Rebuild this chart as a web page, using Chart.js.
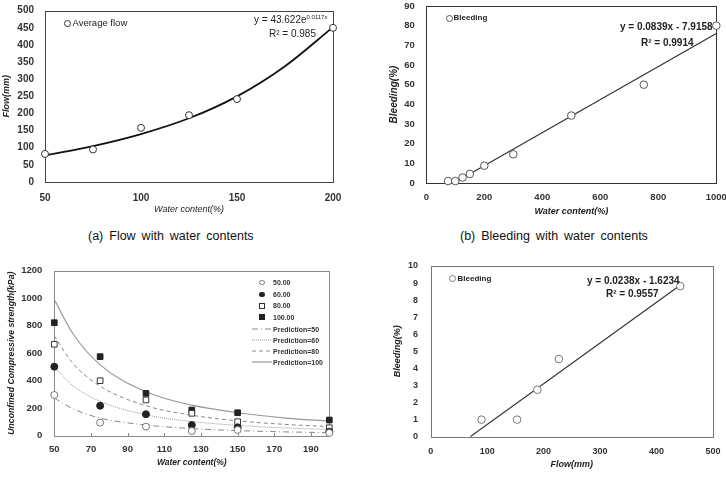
<!DOCTYPE html>
<html><head><meta charset="utf-8">
<script src="https://cdn.jsdelivr.net/npm/chart.js@4.4.1/dist/chart.umd.min.js"></script>
<style>
html,body{margin:0;padding:0;background:#fff;}
#wrap{position:relative;width:726px;height:490px;overflow:hidden;font-family:"Liberation Sans",Arial,sans-serif;color:#222;}
canvas{position:absolute;}
.t{position:absolute;white-space:nowrap;line-height:1;}
.b{font-weight:bold;}
.mk{position:absolute;box-sizing:border-box;}
sup{font-size:6px;vertical-align:4px;line-height:0;}
</style></head><body><div id="wrap">
<canvas id="c1" width="363" height="215" style="left:0;top:0"></canvas>
<canvas id="c2" width="363" height="215" style="left:363px;top:0"></canvas>
<canvas id="c3" width="363" height="245" style="left:0;top:245px"></canvas>
<canvas id="c4" width="363" height="245" style="left:363px;top:245px"></canvas>

<!-- chart 1 texts -->
<div class="mk" style="left:63.5px;top:19.5px;width:7px;height:7px;border:1px solid #333;border-radius:50%"></div>
<div class="t" style="left:72.5px;top:18px;font-size:9.5px;color:#222">Average flow</div>
<div class="t" style="left:254px;top:15px;font-size:10px;color:#222">y = 43.622e<sup>0.0117x</sup></div>
<div class="t" style="left:269px;top:28.5px;font-size:10px;color:#222">R² = 0.985</div>

<!-- chart 2 texts -->
<div class="mk" style="left:445.5px;top:14.5px;width:7px;height:7px;border:1px solid #555;border-radius:50%"></div>
<div class="t b" style="left:453.5px;top:14px;font-size:8px;color:#222">Bleeding</div>
<div class="t b" style="left:620px;top:22px;font-size:10px;color:#222">y = 0.0839x - 7.9158</div>
<div class="t b" style="left:641px;top:37.5px;font-size:10px;color:#222">R² = 0.9914</div>

<!-- captions -->
<div class="t" style="left:88px;top:230px;font-size:12.5px;word-spacing:2.5px;color:#111">(a) Flow with water contents</div>
<div class="t" style="left:460px;top:230px;font-size:12.5px;word-spacing:2.5px;color:#111">(b) Bleeding with water contents</div>

<!-- chart 3 legend -->
<div class="mk" style="left:259px;top:279.5px;width:5.5px;height:5.5px;border:1px solid #777;border-radius:50%"></div>
<div class="t b" style="left:273px;top:278.5px;font-size:7px;color:#333">50.00</div>
<div class="mk" style="left:259px;top:291.5px;width:5.5px;height:5.5px;background:#222;border-radius:50%"></div>
<div class="t b" style="left:273px;top:290.5px;font-size:7px;color:#333">60.00</div>
<div class="mk" style="left:259px;top:302.5px;width:6px;height:6px;border:1px solid #333"></div>
<div class="t b" style="left:273px;top:301.5px;font-size:7px;color:#333">80.00</div>
<div class="mk" style="left:259px;top:314px;width:6px;height:6px;background:#222"></div>
<div class="t b" style="left:273px;top:313.5px;font-size:7px;color:#333">100.00</div>
<svg style="position:absolute;left:251px;top:324px" width="22" height="34">
<line x1="1" y1="5" x2="21" y2="5" stroke="#888" stroke-width="1" stroke-dasharray="6,3,1,3"/>
<line x1="1" y1="16" x2="21" y2="16" stroke="#999" stroke-width="1" stroke-dasharray="1,1"/>
<line x1="1" y1="27" x2="21" y2="27" stroke="#888" stroke-width="1" stroke-dasharray="4,3"/>
</svg>
<svg style="position:absolute;left:251px;top:357px" width="22" height="10">
<line x1="1" y1="5" x2="21" y2="5" stroke="#999" stroke-width="1.2"/>
</svg>
<div class="t b" style="left:273px;top:325.5px;font-size:7px;color:#333">Prediction=50</div>
<div class="t b" style="left:273px;top:336.5px;font-size:7px;color:#333">Prediction=60</div>
<div class="t b" style="left:273px;top:347.5px;font-size:7px;color:#333">Prediction=80</div>
<div class="t b" style="left:273px;top:358.5px;font-size:7px;color:#333">Prediction=100</div>

<!-- chart 4 texts -->
<div class="mk" style="left:448.5px;top:274.5px;width:7px;height:7px;border:1px solid #777;border-radius:50%"></div>
<div class="t b" style="left:457.5px;top:275px;font-size:8px;color:#222">Bleeding</div>
<div class="t b" style="left:587px;top:276px;font-size:10px;color:#222">y = 0.0238x - 1.6234</div>
<div class="t b" style="left:606px;top:289px;font-size:10px;color:#222">R² = 0.9557</div>
</div>
<script>
// ---------- data ----------
// (a) Flow with water contents
const flowWater = [50, 75, 100, 125, 150, 200];
const flowValues = [82, 95, 158, 195, 242, 450];
const flowFitWater = [50, 75, 100, 125, 150, 175, 200];
const flowFitValues = [78, 105, 140, 186, 250, 338, 452];
const flowXTicks = [50, 100, 150, 200];
const flowYTicks = [0, 50, 100, 150, 200, 250, 300, 350, 400, 450, 500];

// (b) Bleeding with water contents
const bleedWater = [75, 100, 125, 150, 200, 300, 500, 750, 1000];
const bleedValues = [1, 1, 2.8, 4.6, 8.8, 14.6, 34.3, 50, 80];
const bleedFitWater = [95, 1000];
const bleedFitValues = [0, 76];
const bleedXTicks = [0, 200, 400, 600, 800, 1000];
const bleedYTicks = [0, 10, 20, 30, 40, 50, 60, 70, 80, 90];

// UCS with water contents
const ucsWater = [50, 75, 100, 125, 150, 200];
const ucs50 = [296, 95, 66, 34, 42, 20];
const ucs60 = [502, 218, 156, 78, 61, 29];
const ucs80 = [665, 400, 260, 163, 102, 58];
const ucs100 = [822, 575, 308, 187, 167, 114];
const predWater = [50, 60, 75, 100, 125, 150, 175, 200];
const pred50 = [274, 197, 128, 78, 52, 37, 28, 22];
const pred60 = [500, 365, 250, 152, 103, 75, 57, 46];
const pred80 = [725, 528, 360, 218, 149, 108, 83, 66];
const pred100 = [990, 745, 515, 320, 222, 167, 130, 105];
const ucsXTicks = [50, 70, 90, 110, 130, 150, 170, 190];
const ucsYTicks = [0, 200, 400, 600, 800, 1000, 1200];

// Bleeding vs flow
const bfFlow = [90, 153, 189, 227, 442];
const bfBleed = [1, 1, 2.75, 4.55, 8.82];
const bfFitFlow = [70, 443];
const bfFitBleed = [0, 8.9];
const bfXTicks = [0, 100, 200, 300, 400, 500];
const bfYTicks = [0, 1, 2, 3, 4, 5, 6, 7, 8, 9, 10];

// ---------- helpers ----------
const FF = '"Liberation Sans", Arial, sans-serif';
const pts = (xs, ys) => xs.map((x, i) => ({x: x, y: ys[i]}));

const framePlugin = {
  id: 'frame',
  beforeDatasetsDraw(chart, args, o) {
    const a = chart.chartArea, c = chart.ctx;
    c.save();
    c.strokeStyle = o.color || '#333';
    c.lineWidth = 1;
    c.strokeRect(Math.round(a.left) + 0.5, Math.round(a.top) + 0.5,
      Math.round(a.right) - Math.round(a.left), Math.round(a.bottom) - Math.round(a.top));
    if (o.innerX) {
      const xs = chart.scales.x;
      xs.ticks.forEach(t => {
        const px = Math.round(xs.getPixelForValue(t.value)) + 0.5;
        c.beginPath(); c.moveTo(px, Math.round(a.bottom)); c.lineTo(px, Math.round(a.bottom) - 3); c.stroke();
      });
    }
    c.restore();
  }
};

function axis(min, max, vals, o) {
  return {
    type: 'linear', min: min, max: max,
    afterBuildTicks: s => { s.ticks = vals.map(v => ({value: v})); },
    ticks: {autoSkip: false, maxRotation: 0, minRotation: 0, padding: o.tp,
      color: o.tc || '#333', font: {family: FF, size: o.ts, weight: o.tw || 'bold'},
      callback: v => String(v)},
    grid: {display: false, drawTicks: false},
    border: {display: false},
    title: {display: true, text: o.title, color: '#222',
      font: {family: FF, size: o.tsz, style: 'italic', weight: o.ttw || 'bold', lineHeight: 1},
      padding: o.tpad},
    afterFit: o.fit
  };
}
const fixY = w => s => { s.width = w; s.paddingTop = 0; s.paddingBottom = 0; };
const fixX = h => s => { s.height = h; s.paddingLeft = 0; s.paddingRight = 0; };

function base(pad, frameColor, innerX) {
  return {
    responsive: false, animation: false, devicePixelRatio: 1,
    layout: {padding: pad},
    plugins: {legend: {display: false}, tooltip: {enabled: false}, frame: {color: frameColor, innerX: innerX}}
  };
}

// ---------- chart 1 ----------
new Chart(document.getElementById('c1'), {
  type: 'scatter',
  plugins: [framePlugin],
  data: {datasets: [
    {label: 'Average flow', data: pts(flowWater, flowValues), pointRadius: 3.5, pointBackgroundColor: '#fff',
      pointBorderColor: '#333', pointBorderWidth: 1, clip: false},
    {label: 'Fit', data: pts(flowFitWater, flowFitValues), showLine: true, pointRadius: 0,
      borderColor: '#111', borderWidth: 1.8, cubicInterpolationMode: 'monotone'}
  ]},
  options: Object.assign(base({left: 0, top: 10.7, right: 30, bottom: 0}, '#444'), {
    scales: {
      x: axis(50, 200, flowXTicks, {tp: 10, ts: 10, tc: '#333', title: 'Water content(%)', tsz: 9, ttw: 'normal',
        tpad: {top: 0, bottom: 1.2}, fit: fixX(33)}),
      y: axis(0, 500, flowYTicks, {tp: 11, ts: 10, tc: '#333', title: 'Flow(mm)', tsz: 9, ttw: 'bold',
        tpad: {top: 2.2, bottom: 0}, fit: fixY(45)})
    }
  })
});

// ---------- chart 2 ----------
new Chart(document.getElementById('c2'), {
  type: 'scatter',
  plugins: [framePlugin],
  data: {datasets: [
    {label: 'Bleeding', data: pts(bleedWater, bleedValues), pointRadius: 3.8, pointBackgroundColor: '#fff',
      pointBorderColor: '#555', pointBorderWidth: 1, clip: false},
    {label: 'Fit', data: pts(bleedFitWater, bleedFitValues), showLine: true, pointRadius: 0,
      borderColor: '#333', borderWidth: 1.2}
  ]},
  options: Object.assign(base({left: 0, top: 6, right: 9.7, bottom: 0}, '#333'), {
    scales: {
      x: axis(0, 1000, bleedXTicks, {tp: 9, ts: 9.5, title: 'Water content(%)', tsz: 9,
        tpad: {top: 0, bottom: -1.5}, fit: fixX(32)}),
      y: axis(0, 90, bleedYTicks, {tp: 11.6, ts: 9.5, title: 'Bleeding(%)', tsz: 10,
        tpad: {top: 26.7, bottom: 0}, fit: fixY(63.3)})
    }
  })
});

// ---------- chart 3 ----------
new Chart(document.getElementById('c3'), {
  type: 'scatter',
  plugins: [framePlugin],
  data: {datasets: [
    {label: '50.00', data: pts(ucsWater, ucs50), pointStyle: 'circle', pointRadius: 3.5, pointBackgroundColor: '#fff',
      pointBorderColor: '#777', pointBorderWidth: 1, clip: false},
    {label: '60.00', data: pts(ucsWater, ucs60), pointStyle: 'circle', pointRadius: 3.5, pointBackgroundColor: '#222',
      pointBorderColor: '#222', pointBorderWidth: 1, clip: false},
    {label: '80.00', data: pts(ucsWater, ucs80), pointStyle: 'rect', pointRadius: 4, pointBackgroundColor: '#fff',
      pointBorderColor: '#333', pointBorderWidth: 1, clip: false},
    {label: '100.00', data: pts(ucsWater, ucs100), pointStyle: 'rect', pointRadius: 4, pointBackgroundColor: '#222',
      pointBorderColor: '#222', pointBorderWidth: 1, clip: false},
    {label: 'Prediction=50', data: pts(predWater, pred50), showLine: true, pointRadius: 0, borderColor: '#888',
      borderWidth: 1, borderDash: [6, 3, 1, 3], cubicInterpolationMode: 'monotone'},
    {label: 'Prediction=60', data: pts(predWater, pred60), showLine: true, pointRadius: 0, borderColor: '#999',
      borderWidth: 1, borderDash: [1, 1], cubicInterpolationMode: 'monotone'},
    {label: 'Prediction=80', data: pts(predWater, pred80), showLine: true, pointRadius: 0, borderColor: '#888',
      borderWidth: 1, borderDash: [4, 3], cubicInterpolationMode: 'monotone'},
    {label: 'Prediction=100', data: pts(predWater, pred100), showLine: true, pointRadius: 0, borderColor: '#999',
      borderWidth: 1.2, cubicInterpolationMode: 'monotone'}
  ]},
  options: Object.assign(base({left: 0, top: 25.7, right: 33.7, bottom: 0}, '#888', true), {
    scales: {
      x: axis(50, 200, ucsXTicks, {tp: 8, ts: 9.5, title: 'Water content(%)', tsz: 8.5,
        tpad: {top: 0, bottom: 22.7}, fit: fixX(54.3)}),
      y: axis(0, 1200, ucsYTicks, {tp: 12, ts: 9.5, title: 'Unconfined Compressive strength(kPa)', tsz: 8.7,
        tpad: {top: 7.7, bottom: 0}, fit: fixY(54.3)})
    }
  })
});

// ---------- chart 4 ----------
new Chart(document.getElementById('c4'), {
  type: 'scatter',
  plugins: [framePlugin],
  data: {datasets: [
    {label: 'Bleeding', data: pts(bfFlow, bfBleed), pointRadius: 3.8, pointBackgroundColor: '#fff',
      pointBorderColor: '#777', pointBorderWidth: 1, clip: false},
    {label: 'Fit', data: pts(bfFitFlow, bfFitBleed), showLine: true, pointRadius: 0,
      borderColor: '#333', borderWidth: 1.2}
  ]},
  options: Object.assign(base({left: 0, top: 21, right: 13, bottom: 0}, '#777'), {
    scales: {
      x: axis(0, 500, bfXTicks, {tp: 9, ts: 9, title: 'Flow(mm)', tsz: 9,
        tpad: {top: 0, bottom: 20.5}, fit: fixX(53.3)}),
      y: axis(0, 10, bfYTicks, {tp: 12.7, ts: 9, title: 'Bleeding(%)', tsz: 9,
        tpad: {top: 30.5, bottom: 0}, fit: fixY(67.7)})
    }
  })
});
</script>
</body></html>
